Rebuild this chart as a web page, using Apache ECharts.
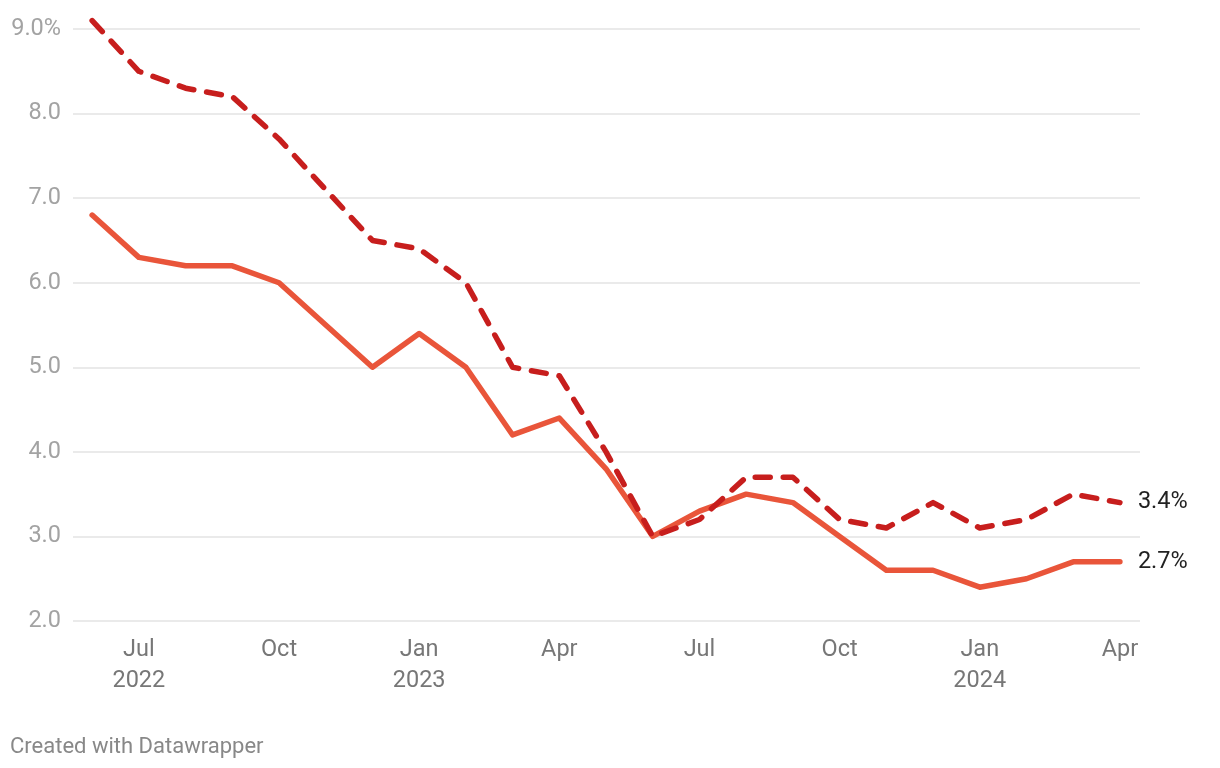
<!DOCTYPE html>
<html>
<head>
<meta charset="utf-8">
<script src="https://cdn.jsdelivr.net/npm/echarts@6/dist/echarts.min.js"></script>
<style>
html,body{margin:0;padding:0;background:#fff;}
#chart{width:1220px;height:768px;}
</style>
</head>
<body>
<div id="chart"></div>
<script>
// Months Jun 2022 .. Apr 2024
const months = ['Jun 2022','Jul 2022','Aug 2022','Sep 2022','Oct 2022','Nov 2022','Dec 2022',
  'Jan 2023','Feb 2023','Mar 2023','Apr 2023','May 2023','Jun 2023','Jul 2023','Aug 2023','Sep 2023',
  'Oct 2023','Nov 2023','Dec 2023','Jan 2024','Feb 2024','Mar 2024','Apr 2024'];
const solidSeries = [6.8,6.3,6.2,6.2,6.0,5.5,5.0,5.4,5.0,4.2,4.4,3.8,3.0,3.3,3.5,3.4,3.0,2.6,2.6,2.4,2.5,2.7,2.7];
const dashedSeries = [9.1,8.5,8.3,8.2,7.7,7.1,6.5,6.4,6.0,5.0,4.9,4.0,3.0,3.2,3.7,3.7,3.2,3.1,3.4,3.1,3.2,3.5,3.4];
const tickIndices = [1,4,7,10,13,16,19,22];
const tickLabels = ['Jul\n2022','Oct','Jan\n2023','Apr','Jul','Oct','Jan\n2024','Apr'];
const yTicks = [2,3,4,5,6,7,8,9];

const toPairs = arr => arr.map((v,i)=>[i,v]);
const FONT = 'Roboto';

const chart = echarts.init(document.getElementById('chart'));
chart.setOption({
  animation:false,
  backgroundColor:'#ffffff',
  textStyle:{fontFamily:FONT},
  grid:{left:73,right:80,top:29,bottom:147,containLabel:false},
  xAxis:{
    type:'value',
    min:-0.41, max:22.43,
    axisLine:{show:false},
    axisTick:{show:false},
    splitLine:{show:false},
    axisLabel:{
      customValues:tickIndices,
      formatter:function(v){const k=tickIndices.indexOf(Math.round(v));return k>=0?tickLabels[k]:'';},
      color:'#777777',fontSize:23.5,lineHeight:31,margin:14,fontFamily:FONT
    }
  },
  yAxis:{
    type:'value',min:2,max:9,interval:1,
    axisLine:{show:false},axisTick:{show:false},
    splitLine:{show:true,lineStyle:{color:'#e3e3e3',width:1.5}},
    axisLabel:{
      formatter:function(v){return v===yTicks[yTicks.length-1]?v.toFixed(1)+'%':v.toFixed(1);},
      color:'#a3a3a3',fontSize:23.5,margin:12,padding:[4,0,0,0],fontFamily:FONT
    }
  },
  series:[
    {
      type:'line',data:toPairs(solidSeries),showSymbol:false,clip:false,
      lineStyle:{color:'#e9553a',width:5.5,cap:'round',join:'round'},
      itemStyle:{color:'#e9553a'},
      endLabel:{show:true,formatter:function(p){return p.value[1].toFixed(1)+'%';},color:'#222',fontSize:23.5,distance:18,padding:[6,0,0,0],fontFamily:FONT}
    },
    {
      type:'line',data:toPairs(dashedSeries),showSymbol:false,clip:false,
      lineStyle:{color:'#c71e1d',width:5.5,type:[15,13],cap:'round',join:'round'},
      itemStyle:{color:'#c71e1d'},
      endLabel:{show:true,formatter:function(p){return p.value[1].toFixed(1)+'%';},color:'#222',fontSize:23.5,distance:18,padding:[8,0,0,0],fontFamily:FONT}
    }
  ],
  graphic:[{type:'text',left:10,top:736,style:{text:'Created with Datawrapper',fill:'#888888',font:'22px Roboto'}}]
});
</script>
</body>
</html>
